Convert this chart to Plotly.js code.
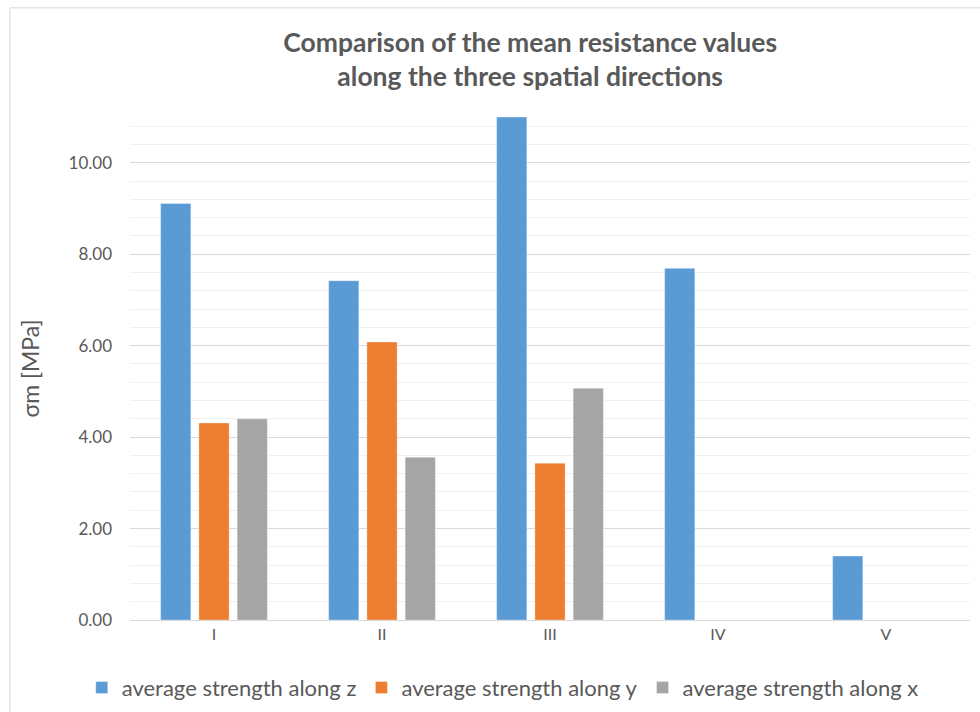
<!DOCTYPE html>
<html>
<head>
<meta charset="utf-8">
<script src="https://cdn.plot.ly/plotly-3.0.1.min.js"></script>
<style>
  html, body { margin: 0; padding: 0; background: #ffffff; }
  #chart { width: 980px; height: 712px; }
</style>
</head>
<body>
<div id="chart"></div>
<script>
// Specimen groups
const categories = ['I', 'II', 'III', 'IV', 'V'];

// Mean strength per direction [MPa]
const strengthZ = [9.11, 7.42, 11.0, 7.69, 1.40];
const strengthY = [4.31, 6.08, 3.43, null, null];
const strengthX = [4.40, 3.56, 5.07, null, null];

const seriesNames = [
  'average strength along z',
  'average strength along y',
  'average strength along x'
];

const colors = ['#5B9BD5', '#ED7D31', '#A5A5A5'];
const textColor = '#595959';
const fontFamily = 'Lato, "Open Sans", sans-serif';

const traces = [strengthZ, strengthY, strengthX].map((vals, i) => ({
  type: 'bar',
  name: seriesNames[i],
  x: categories,
  y: vals,
  marker: { color: colors[i], line: { color: 'rgba(255,255,255,0.35)', width: 1 } },
  hoverinfo: 'y+name'
}));

const layout = {
  width: 980,
  height: 712,
  paper_bgcolor: '#ffffff',
  plot_bgcolor: '#ffffff',
  margin: { l: 130, r: 10, t: 117, b: 92 },
  barmode: 'group',
  bargap: 0.317,
  bargroupgap: 0.21,
  font: { family: fontFamily, color: textColor },
  title: {
    text: '<b>Comparison of the mean resistance values<br>along the three spatial directions</b>',
    font: { family: fontFamily, size: 26.5, color: textColor },
    xref: 'container', x: 0.541, xanchor: 'center',
    yref: 'container', y: 0.927, yanchor: 'top'
  },
  xaxis: {
    type: 'category',
    showgrid: false,
    showline: true,
    linecolor: '#d9d9d9',
    linewidth: 1,
    ticks: '',
    tickfont: { size: 16, color: textColor },
    fixedrange: true
  },
  yaxis: {
    range: [0, 11.0],
    tick0: 0,
    dtick: 2,
    tickformat: '.2f',
    showgrid: true,
    gridcolor: '#d9d9d9',
    gridwidth: 1,
    zeroline: false,
    showline: false,
    ticks: '',
    ticklabelstandoff: 17,
    tickfont: { size: 17, color: textColor },
    minor: { dtick: 0.4, tick0: 0, showgrid: true, gridcolor: '#f0f0f0', gridwidth: 1 },
    title: {
      text: 'σm [MPa]',
      font: { size: 23, color: textColor },
      standoff: 22
    },
    fixedrange: true
  },
  legend: {
    orientation: 'h',
    xref: 'container', x: 0.513, xanchor: 'center',
    yref: 'container', y: 0.034, yanchor: 'middle',
    font: { size: 22, color: textColor },
    itemwidth: 30,
    traceorder: 'normal'
  },
  shapes: [{
    type: 'rect',
    xref: 'paper', yref: 'paper',
    x0: -0.143, x1: 1.2, y0: -0.4, y1: 1.217,
    line: { color: '#d9d9d9', width: 1 },
    fillcolor: 'rgba(0,0,0,0)',
    layer: 'below'
  }],
  showlegend: true
};

Plotly.newPlot('chart', traces, layout, { displayModeBar: false, staticPlot: true });
</script>
</body>
</html>
